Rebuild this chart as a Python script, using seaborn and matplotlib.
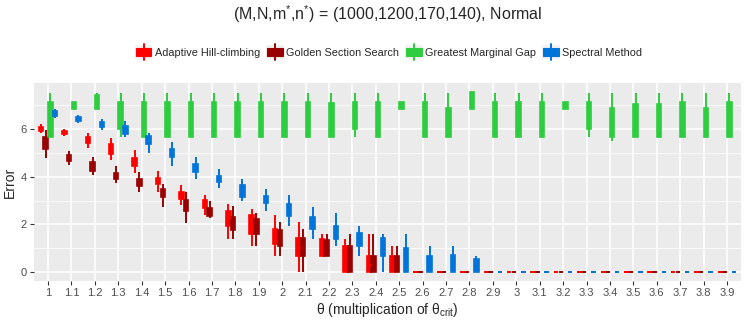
import matplotlib
matplotlib.use("Agg")
import matplotlib.pyplot as plt
from matplotlib.patches import Patch, Rectangle
from matplotlib.lines import Line2D
from matplotlib.legend_handler import HandlerBase
import numpy as np
import pandas as pd
import seaborn as sns

# theta grid (multiplication of theta_crit)
thetas = ["1", "1.1", "1.2", "1.3", "1.4", "1.5", "1.6", "1.7", "1.8", "1.9",
          "2", "2.1", "2.2", "2.3", "2.4", "2.5", "2.6", "2.7", "2.8", "2.9",
          "3", "3.1", "3.2", "3.3", "3.4", "3.5", "3.6", "3.7", "3.8", "3.9"]

methods = ["Adaptive Hill-climbing", "Golden Section Search",
           "Greatest Marginal Gap", "Spectral Method"]
colors = ["#FF0000", "#990000", "#2ECC40", "#0074D9"]

# five-number summaries per theta: min, q1, median, q3, max
ahc_min = [5.85, 5.71, 5.22, 4.71, 4.15, 3.38, 2.82, 2.39, 1.37, 1.11, 0.69, 0.00, 0.67, 0.00, 0.00, 0.00, 0, 0, 0, 0, 0, 0, 0, 0, 0, 0, 0, 0, 0, 0]
ahc_q1 = [5.94, 5.78, 5.41, 4.96, 4.45, 3.68, 3.05, 2.67, 1.95, 1.58, 1.16, 0.67, 0.67, 0.00, 0.00, 0.00, 0, 0, 0, 0, 0, 0, 0, 0, 0, 0, 0, 0, 0, 0]
ahc_med = [6.02, 5.85, 5.55, 5.15, 4.62, 3.82, 3.20, 2.85, 2.25, 1.95, 1.50, 1.00, 1.00, 0.60, 0.30, 0.30, 0, 0, 0, 0, 0, 0, 0, 0, 0, 0, 0, 0, 0, 0]
ahc_q3 = [6.10, 5.92, 5.69, 5.38, 4.79, 3.96, 3.35, 3.03, 2.58, 2.39, 1.81, 1.41, 1.39, 1.11, 0.67, 0.67, 0, 0, 0, 0, 0, 0, 0, 0, 0, 0, 0, 0, 0, 0]
ahc_max = [6.23, 6.00, 5.83, 5.62, 5.13, 4.26, 3.66, 3.24, 2.86, 2.63, 2.39, 2.09, 1.60, 1.39, 1.60, 1.11, 0, 0, 0, 0, 0, 0, 0, 0, 0, 0, 0, 0, 0, 0]

gss_min = [4.78, 4.50, 4.06, 3.73, 3.35, 2.72, 2.07, 2.28, 1.37, 1.11, 0.69, 0.00, 0.67, 0.00, 0.00, 0.00, 0, 0, 0, 0, 0, 0, 0, 0, 0, 0, 0, 0, 0, 0]
gss_q1 = [5.17, 4.68, 4.26, 3.91, 3.61, 3.14, 2.56, 2.37, 1.76, 1.58, 1.11, 0.67, 0.67, 0.00, 0.00, 0.00, 0, 0, 0, 0, 0, 0, 0, 0, 0, 0, 0, 0, 0, 0]
gss_med = [5.40, 4.80, 4.45, 4.05, 3.75, 3.30, 2.80, 2.50, 2.05, 1.85, 1.45, 1.00, 1.00, 0.60, 0.30, 0.30, 0, 0, 0, 0, 0, 0, 0, 0, 0, 0, 0, 0, 0, 0]
gss_q3 = [5.66, 4.93, 4.64, 4.17, 3.89, 3.50, 3.03, 2.67, 2.32, 2.21, 1.76, 1.41, 1.34, 1.11, 0.67, 0.67, 0, 0, 0, 0, 0, 0, 0, 0, 0, 0, 0, 0, 0, 0]
gss_max = [5.97, 5.10, 4.82, 4.45, 4.22, 3.70, 3.38, 2.98, 2.79, 2.49, 2.09, 1.79, 1.60, 1.60, 1.60, 1.11, 0, 0, 0, 0, 0, 0, 0, 0, 0, 0, 0, 0, 0, 0]

gmg_min = [5.69, 6.85, 6.83, 5.69, 5.69, 5.69, 5.69, 5.69, 5.69, 5.69, 5.69, 5.69, 5.69, 5.69, 5.69, 6.83, 5.69, 5.69, 6.85, 5.69, 5.69, 5.69, 6.83, 5.69, 5.52, 5.69, 5.69, 5.69, 5.69, 5.69]
gmg_q1 = [5.69, 6.85, 6.83, 5.99, 5.69, 5.69, 5.69, 5.69, 5.69, 5.69, 5.69, 5.69, 5.69, 5.99, 5.69, 6.83, 5.69, 5.69, 6.85, 5.69, 5.69, 5.69, 6.83, 5.99, 5.69, 5.69, 5.69, 5.69, 5.69, 5.69]
gmg_med = [6.90, 7.00, 7.10, 6.90, 6.90, 6.90, 6.90, 6.90, 6.90, 6.90, 6.90, 6.90, 6.90, 6.90, 6.90, 7.00, 6.90, 6.50, 7.20, 6.90, 6.90, 6.90, 7.00, 6.90, 6.50, 6.90, 6.90, 6.90, 6.50, 6.90]
gmg_q3 = [7.13, 7.13, 7.45, 7.13, 7.13, 7.13, 7.13, 7.13, 7.13, 7.13, 7.13, 7.13, 7.09, 7.13, 7.13, 7.13, 7.13, 6.90, 7.55, 7.13, 7.13, 7.13, 7.13, 7.13, 6.90, 7.06, 7.06, 7.13, 6.88, 7.13]
gmg_max = [7.53, 7.13, 7.53, 7.53, 7.53, 7.53, 7.53, 7.53, 7.53, 7.53, 7.53, 7.53, 7.53, 7.53, 7.53, 7.13, 7.53, 7.53, 7.55, 7.53, 7.53, 7.53, 7.13, 7.53, 7.53, 7.53, 7.53, 7.53, 7.53, 7.53]

spec_min = [6.46, 6.26, 5.98, 5.66, 5.01, 4.45, 3.91, 3.52, 3.00, 2.58, 1.95, 1.37, 1.09, 0.69, 0.00, 0.00, 0.00, 0.00, 0.00, 0, 0, 0, 0, 0, 0, 0, 0, 0, 0, 0]
spec_q1 = [6.57, 6.33, 6.10, 5.78, 5.36, 4.85, 4.19, 3.80, 3.17, 2.89, 2.35, 1.79, 1.37, 1.09, 0.67, 0.00, 0.00, 0.00, 0.00, 0, 0, 0, 0, 0, 0, 0, 0, 0, 0, 0]
spec_med = [6.66, 6.43, 6.20, 5.95, 5.55, 5.00, 4.35, 3.92, 3.40, 3.05, 2.60, 2.05, 1.65, 1.35, 1.00, 0.50, 0.30, 0.35, 0.25, 0, 0, 0, 0, 0, 0, 0, 0, 0, 0, 0]
spec_q3 = [6.75, 6.53, 6.32, 6.13, 5.71, 5.17, 4.54, 4.05, 3.66, 3.21, 2.84, 2.32, 1.95, 1.62, 1.41, 1.02, 0.67, 0.71, 0.53, 0, 0, 0, 0, 0, 0, 0, 0, 0, 0, 0]
spec_max = [6.86, 6.60, 6.43, 6.34, 5.83, 5.48, 4.82, 4.33, 3.91, 3.49, 3.24, 2.72, 2.46, 1.95, 1.60, 1.60, 1.11, 1.11, 0.69, 0, 0, 0, 0, 0, 0, 0, 0, 0, 0, 0]

summaries = {
    methods[0]: [ahc_min, ahc_q1, ahc_med, ahc_q3, ahc_max],
    methods[1]: [gss_min, gss_q1, gss_med, gss_q3, gss_max],
    methods[2]: [gmg_min, gmg_q1, gmg_med, gmg_q3, gmg_max],
    methods[3]: [spec_min, spec_q1, spec_med, spec_q3, spec_max],
}

# long table: the five summary values per box reproduce the quartiles exactly
rows = []
for m in methods:
    for stat in summaries[m]:
        for t, v in zip(thetas, stat):
            rows.append({"theta": t, "method": m, "error": v})
df = pd.DataFrame(rows)


class BoxKey(HandlerBase):
    # ggplot-like boxplot legend key: grey square, filled box, vertical line
    def create_artists(self, legend, orig_handle, xdescent, ydescent,
                       width, height, fontsize, trans):
        c = orig_handle.get_facecolor()
        x0, y0 = -xdescent, -ydescent
        bg = Rectangle((x0, y0), width, height, facecolor="#F2F2F2",
                       edgecolor="none", transform=trans)
        box = Rectangle((x0 + 0.06 * width, y0 + 0.2 * height), 0.88 * width,
                        0.6 * height, facecolor=c, edgecolor=c, lw=0.8,
                        transform=trans)
        ln = Line2D([x0 + width / 2] * 2, [y0 - 0.1 * height, y0 + 1.1 * height],
                    color=c, lw=1.4, transform=trans)
        return [bg, box, ln]


sns.set_theme(style="darkgrid")
plt.rcParams.update({
    "font.family": ["Liberation Sans", "DejaVu Sans"],
    "mathtext.fontset": "custom",
    "mathtext.rm": "Liberation Sans",
    "mathtext.it": "Liberation Sans:italic",
    "axes.facecolor": "#EBEBEB",
    "grid.color": "white",
})

fig = plt.figure(figsize=(7.47, 3.23), dpi=100)
ax = fig.add_axes([0.0455, 0.130, 0.9465, 0.613])

sns.boxplot(data=df, x="theta", y="error", hue="method", order=thetas,
            hue_order=methods, palette=colors, whis=(0, 100), showcaps=False,
            width=0.8, gap=0.05, linewidth=1.2, legend=False, ax=ax)

for cont, c in zip(ax.containers, colors):
    for b in cont.boxes:
        b.set_facecolor(c)
        b.set_edgecolor(c)
    for ln in list(cont.whiskers) + list(cont.medians):
        ln.set_color(c)
        ln.set_linewidth(1.4)

ax.set_xlim(-0.6, len(thetas) - 0.4)
ax.set_ylim(-0.38, 7.94)
ax.set_yticks([0, 2, 4, 6])
ax.set_yticks([1, 3, 5, 7], minor=True)
ax.grid(which="major", color="white", linewidth=1.1)
ax.grid(which="minor", axis="y", color="white", linewidth=0.55)
ax.set_axisbelow(True)
for s in ax.spines.values():
    s.set_visible(False)
ax.tick_params(axis="both", which="major", length=3, width=0.8, color="#333333",
               labelsize=8, labelcolor="#4D4D4D", pad=2, bottom=True, left=True)
ax.tick_params(axis="y", which="minor", length=0)

ax.set_xlabel(r"θ (multiplication of θ$_{\mathrm{crit}}$)", fontsize=10, labelpad=2)
ax.set_ylabel("Error", fontsize=10, labelpad=3)

fig.text(0.519, 0.955, r"(M,N,m$^{*}$,n$^{*}$) = (1000,1200,170,140), Normal",
         ha="center", va="center", fontsize=11.5)

handles = [Patch(facecolor=c, edgecolor=c) for c in colors]
fig.legend(handles, methods, loc="center", bbox_to_anchor=(0.52, 0.839), ncol=4,
           frameon=False, fontsize=7.8, handlelength=1.6, handleheight=1.6,
           handletextpad=0.2, columnspacing=0.6,
           handler_map={Patch: BoxKey()})

fig.savefig("out.png", dpi=100)
